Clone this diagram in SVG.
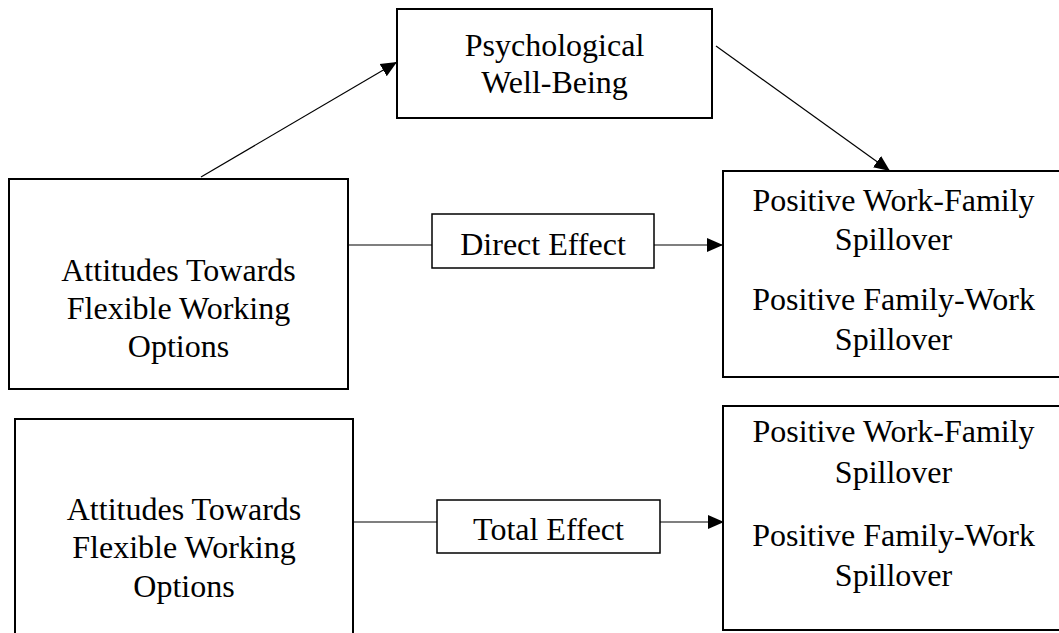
<svg xmlns="http://www.w3.org/2000/svg" width="1059" height="633" viewBox="0 0 1059 633">
<style>
.box{fill:#fff;stroke:#000;stroke-width:2}
.t{font-family:"Liberation Serif","Times New Roman",serif;font-size:32px;fill:#000;text-anchor:middle}
.c{stroke:#000;stroke-width:1.2;fill:none}
</style>
<defs>
<marker id="ah" markerUnits="userSpaceOnUse" markerWidth="16" markerHeight="16" viewBox="0 0 16 16" refX="16" refY="8" orient="auto">
<path d="M0,1 L16,8 L0,15 Z" fill="#000"/>
</marker>
</defs>
<rect width="1059" height="633" fill="#fff"/>
<g id="connectors">
<line class="c" x1="201" y1="177" x2="397" y2="62" marker-end="url(#ah)"/>
<line class="c" x1="716" y1="46" x2="890" y2="171" marker-end="url(#ah)"/>
<line class="c" x1="348" y1="245" x2="432" y2="245"/>
<line class="c" x1="654" y1="245" x2="723" y2="245" marker-end="url(#ah)"/>
<line class="c" x1="353" y1="522" x2="437" y2="522"/>
<line class="c" x1="660" y1="522" x2="724" y2="522" marker-end="url(#ah)"/>
</g>
<g id="psych">
<rect class="box" x="397" y="9" width="315" height="109"/>
<text class="t" x="554.5" y="56">Psychological</text>
<text class="t" x="554.5" y="93">Well-Being</text>
</g>
<g id="attitudes-top">
<rect class="box" x="9" y="179" width="339" height="210"/>
<text class="t" x="178.5" y="281">Attitudes Towards</text>
<text class="t" x="178.5" y="319">Flexible Working</text>
<text class="t" x="178.5" y="357">Options</text>
</g>
<g id="direct-effect">
<rect class="box" x="432" y="214" width="222" height="54" style="stroke-width:1.5"/>
<text class="t" x="543" y="255">Direct Effect</text>
</g>
<g id="spillover-top">
<rect class="box" x="723" y="171" width="342" height="206"/>
<text class="t" x="893.5" y="211">Positive Work-Family</text>
<text class="t" x="893.5" y="250">Spillover</text>
<text class="t" x="893.5" y="310">Positive Family-Work</text>
<text class="t" x="893.5" y="350">Spillover</text>
</g>
<g id="attitudes-bottom">
<rect class="box" x="15" y="419" width="338" height="230"/>
<text class="t" x="184" y="520">Attitudes Towards</text>
<text class="t" x="184" y="558">Flexible Working</text>
<text class="t" x="184" y="597">Options</text>
</g>
<g id="total-effect">
<rect class="box" x="437" y="500" width="223" height="53" style="stroke-width:1.5"/>
<text class="t" x="548.5" y="540">Total Effect</text>
</g>
<g id="spillover-bottom">
<rect class="box" x="723" y="406" width="342" height="224"/>
<text class="t" x="893.5" y="442">Positive Work-Family</text>
<text class="t" x="893.5" y="483">Spillover</text>
<text class="t" x="893.5" y="546">Positive Family-Work</text>
<text class="t" x="893.5" y="586">Spillover</text>
</g>
</svg>
